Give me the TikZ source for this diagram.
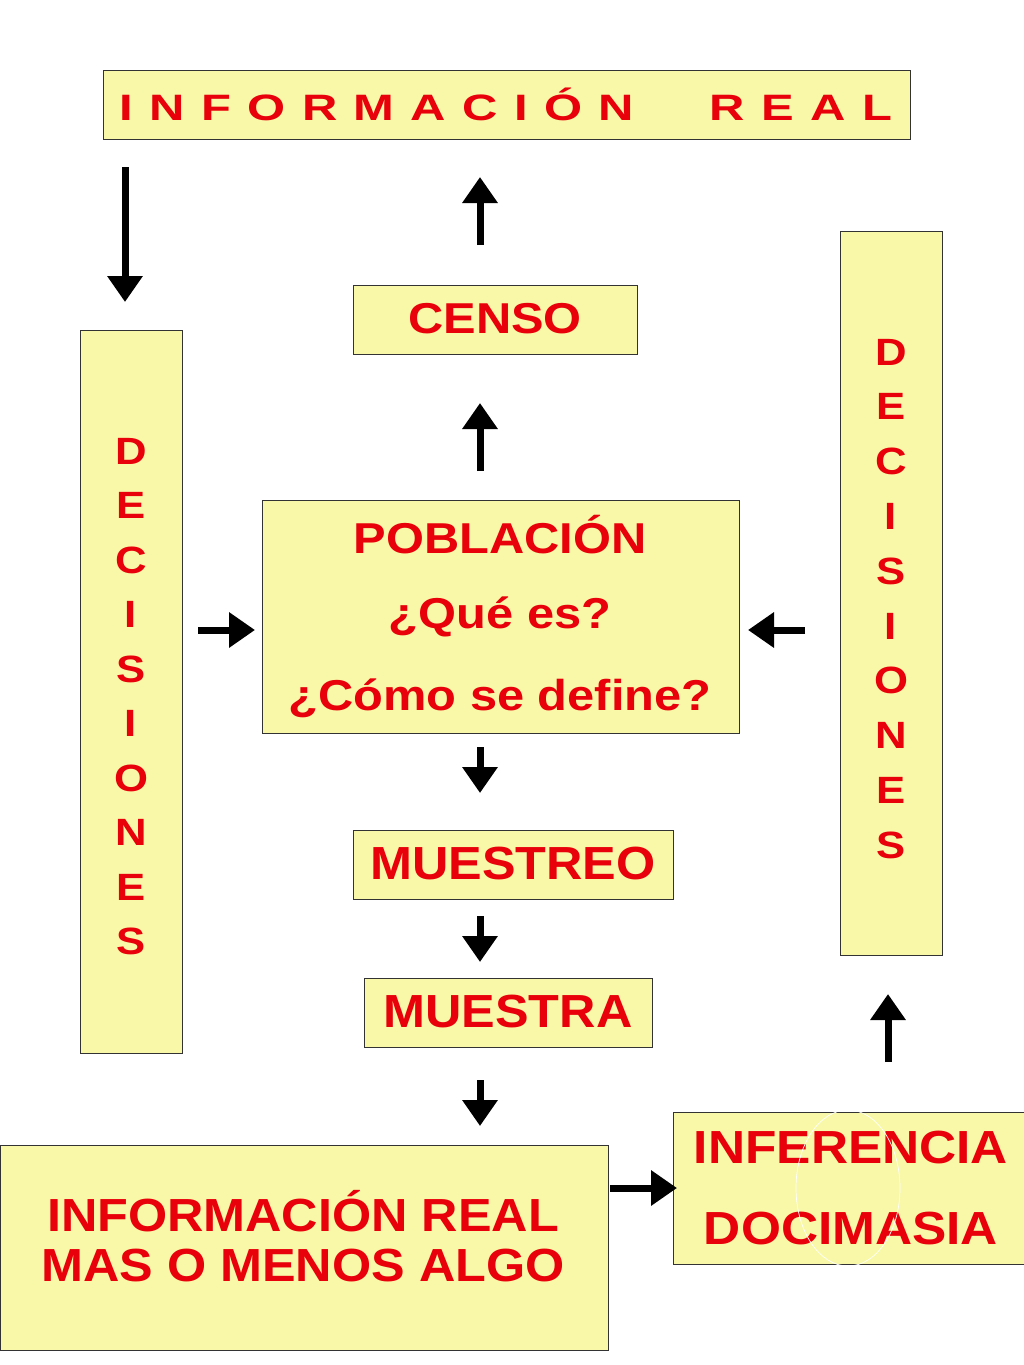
\documentclass[tikz,border=0pt]{standalone}
\usepackage{fontspec}
\setmainfont{Liberation Sans}
\usetikzlibrary{arrows.meta}
\definecolor{bx}{HTML}{F8F8A8}
\definecolor{rd}{HTML}{E8000A}
\begin{document}
\begin{tikzpicture}[x=1pt,y=-1pt,
  box/.style={draw=black!80,line width=0.8pt,fill=bx},
  txt/.style={text=rd,font=\bfseries\fontsize{34}{36}\selectfont,inner sep=0pt,xscale=1.22,yscale=1.08},
  lt/.style={text=rd,font=\bfseries\fontsize{38}{40}\selectfont,inner sep=0pt,xscale=1.15},
  blk/.style={line width=7pt,-{Triangle[width=34pt,length=26pt]}}]
\useasboundingbox (0,0) rectangle (1024,1365);
\fill[white] (0,0) rectangle (1024,1365);
\draw[box] (103,70) rectangle (910,139);
\node[txt,xscale=1.18] (t) at (506,104) {I\,\,N\,\,F\,\,O\,\,R\,\,M\,\,A\,\,C\,\,I\,\,Ó\,\,N\quad\ \ R\,\,E\,\,A\,\,L};
\draw[box] (353,285) rectangle (637,354);
\node[txt,font=\bfseries\fontsize{40}{42}\selectfont] (c) at (495,319) {CENSO};
\draw[box] (262,500) rectangle (739,733);
\node[txt,font=\bfseries\fontsize{40}{42}\selectfont] (p1) at (500,535) {POBLACIÓN};
\node[txt,font=\bfseries\fontsize{40}{42}\selectfont] (p2) at (500,617) {¿Qué es?};
\node[txt,font=\bfseries\fontsize{40}{42}\selectfont] (p3) at (500,698) {¿Cómo se define?};
\draw[box] (353,830) rectangle (673,899);
\node[txt,font=\bfseries\fontsize{43}{45}\selectfont,xscale=0.96] (m1) at (513,864) {MUESTREO};
\draw[box] (364,978) rectangle (652,1047);
\node[txt,font=\bfseries\fontsize{43}{45}\selectfont,xscale=0.96] (m2) at (508,1012) {MUESTRA};
\draw[box] (80,330) rectangle (182,1053);
\foreach \l [count=\i from 0] in {D,E,C,I,S,I,O,N,E,S}
  \node[lt] (l\i) at (131,451+54.5*\i) {\l};
\draw[box] (840,231) rectangle (942,955);
\foreach \l [count=\i from 0] in {D,E,C,I,S,I,O,N,E,S}
  \node[lt] (r\i) at (891,352+54.8*\i) {\l};
\draw[box] (0,1145) rectangle (608,1350);
\node[txt,font=\bfseries\fontsize{43}{45}\selectfont,xscale=0.96] (b1) at (303,1211) {INFORMACIÓN REAL};
\node[txt,font=\bfseries\fontsize{43}{45}\selectfont,xscale=0.96] (b2) at (303,1265) {MAS O MENOS ALGO};
\draw[box] (673,1112) rectangle (1024,1264);
\node[txt,font=\bfseries\fontsize{43}{45}\selectfont,xscale=0.98] (i1) at (851,1147) {INFERENCIA};
\node[txt,font=\bfseries\fontsize{43}{45}\selectfont,xscale=0.98] (i2) at (851,1228) {DOCIMASIA};
\draw[white,line width=0.7pt] (848,1188) ellipse (52 and 78);
\draw[blk] (125,167) -- (125,302);
\draw[blk] (480,245) -- (480,177);
\draw[blk] (480,471) -- (480,403);
\draw[blk] (198,630) -- (255,630);
\draw[blk] (805,630) -- (748,630);
\draw[blk] (480,747) -- (480,793);
\draw[blk] (480,916) -- (480,962);
\draw[blk] (480,1080) -- (480,1126);
\draw[blk] (610,1188) -- (677,1188);
\draw[blk] (888,1062) -- (888,994);
\end{tikzpicture}
\end{document}
